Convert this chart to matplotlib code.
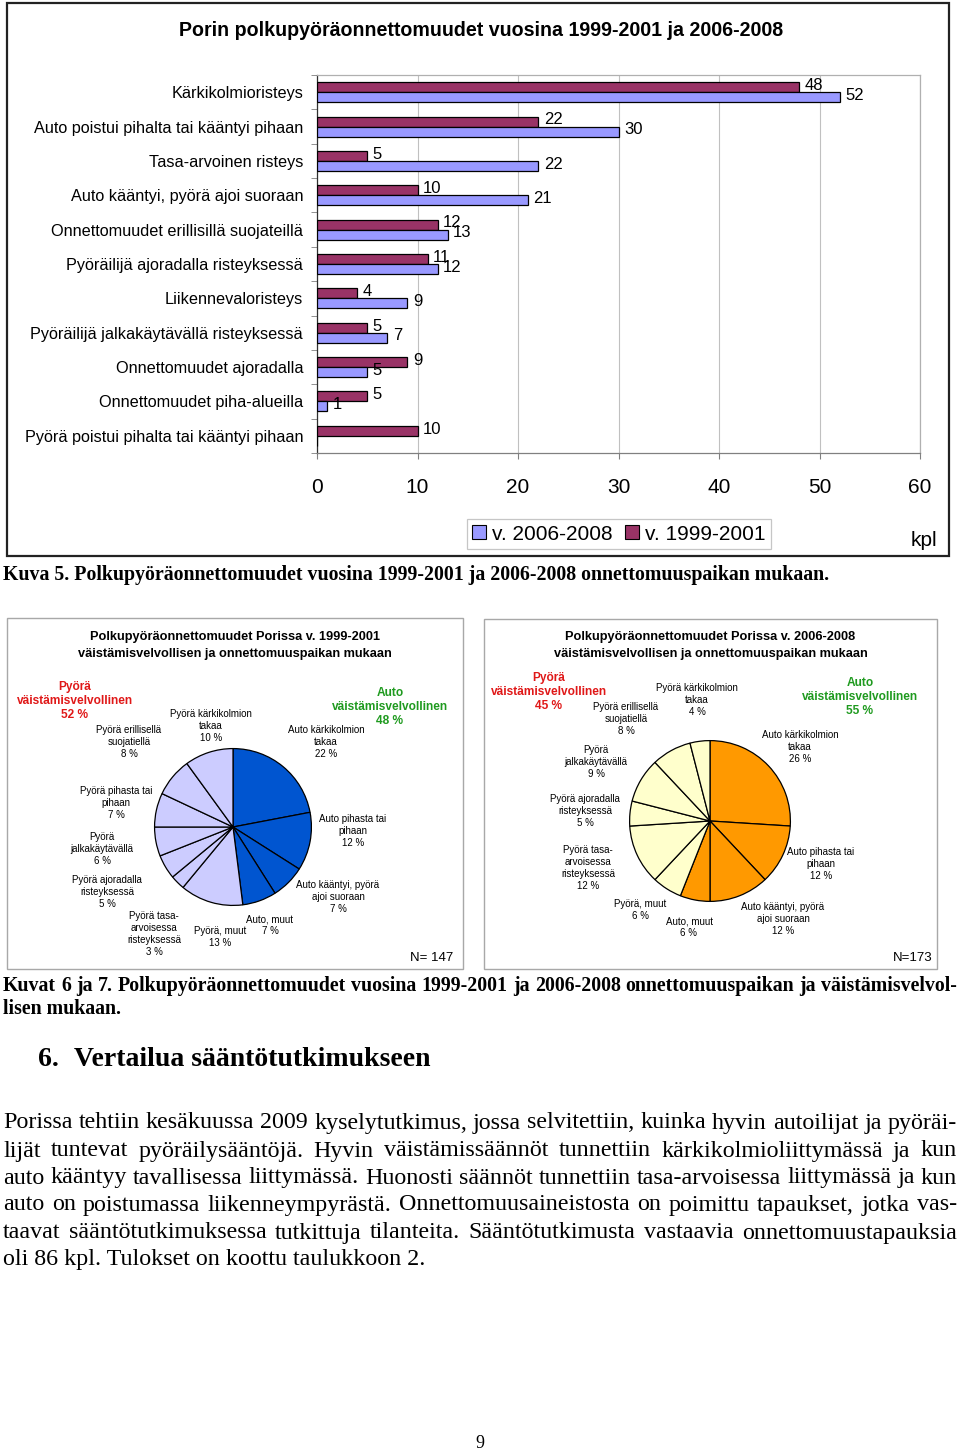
import matplotlib
matplotlib.use('Agg')
import matplotlib.pyplot as plt
from matplotlib.patches import Rectangle
import numpy as np

W, H = 960, 1451
SANS = 'Liberation Sans'
SERIF = 'Liberation Serif'

# ---------------- data ----------------
categories = [
    "Kärkikolmioristeys",
    "Auto poistui pihalta tai kääntyi pihaan",
    "Tasa-arvoinen risteys",
    "Auto kääntyi, pyörä ajoi suoraan",
    "Onnettomuudet erillisillä suojateillä",
    "Pyöräilijä ajoradalla risteyksessä",
    "Liikennevaloristeys",
    "Pyöräilijä jalkakäytävällä risteyksessä",
    "Onnettomuudet ajoradalla",
    "Onnettomuudet piha-alueilla",
    "Pyörä poistui pihalta tai kääntyi pihaan",
]
v1999_2001 = [48, 22, 5, 10, 12, 11, 4, 5, 9, 5, 10]
v2006_2008 = [52, 30, 22, 21, 13, 12, 9, 7, 5, 1, 0]
x_ticks = [0, 10, 20, 30, 40, 50, 60]
series_names = ["v. 2006-2008", "v. 1999-2001"]

pie1_names = ["Auto kärkikolmion\ntakaa", "Auto pihasta tai\npihaan",
              "Auto kääntyi, pyörä\najoi suoraan", "Auto, muut",
              "Pyörä, muut", "Pyörä tasa-\narvoisessa\nristeyksessä",
              "Pyörä ajoradalla\nristeyksessä", "Pyörä\njalkakäytävällä",
              "Pyörä pihasta tai\npihaan", "Pyörä erillisellä\nsuojatiellä",
              "Pyörä kärkikolmion\ntakaa"]
pie1_values = [22, 12, 7, 7, 13, 3, 5, 6, 7, 8, 10]
pie1_is_auto = [True, True, True, True, False, False, False, False, False, False, False]
pie1_totals = {"Pyörä": 52, "Auto": 48}
pie1_n = 147

pie2_names = ["Auto kärkikolmion\ntakaa", "Auto pihasta tai\npihaan",
              "Auto kääntyi, pyörä\najoi suoraan", "Auto, muut",
              "Pyörä, muut", "Pyörä tasa-\narvoisessa\nristeyksessä",
              "Pyörä ajoradalla\nristeyksessä", "Pyörä\njalkakäytävällä",
              "Pyörä erillisellä\nsuojatiellä", "Pyörä kärkikolmion\ntakaa"]
pie2_values = [26, 12, 12, 6, 6, 12, 5, 9, 8, 4]
pie2_is_auto = [True, True, True, True, False, False, False, False, False, False]
pie2_totals = {"Pyörä": 45, "Auto": 55}
pie2_n = 173

paragraph = [
    "Porissa tehtiin kesäkuussa 2009 kyselytutkimus, jossa selvitettiin, kuinka hyvin autoilijat ja pyöräi-",
    "lijät tuntevat pyöräilysääntöjä. Hyvin väistämissäännöt tunnettiin kärkikolmioliittymässä ja kun",
    "auto kääntyy tavallisessa liittymässä. Huonosti säännöt tunnettiin tasa-arvoisessa liittymässä ja kun",
    "auto on poistumassa liikenneympyrästä. Onnettomuusaineistosta on poimittu tapaukset, jotka vas-",
    "taavat sääntötutkimuksessa tutkittuja tilanteita. Sääntötutkimusta vastaavia onnettomuustapauksia",
    "oli 86 kpl. Tulokset on koottu taulukkoon 2.",
]
caption2 = [
    "Kuvat 6 ja 7. Polkupyöräonnettomuudet vuosina 1999-2001 ja 2006-2008 onnettomuuspaikan ja väistämisvelvol-",
    "lisen mukaan.",
]

# ---------------- helpers ----------------
fig = plt.figure(figsize=(W / 100, H / 100), dpi=100)
fig.patch.set_facecolor('white')
renderer = fig.canvas.get_renderer()


def P(x, y):
    return (x / W, 1 - y / H)


def text_w(s, size, **kw):
    t = fig.text(0, 0, s, fontsize=size, **kw)
    w = t.get_window_extent(renderer).width
    t.remove()
    return w


def fit(s, target, **kw):
    return 20 * target / text_w(s, 20, **kw)


def ftext(x, y, s, **kw):
    return fig.text(*P(x, y), s, **kw)


def justify(line, x0, x1, y, size, **kw):
    words = line.split(' ')
    widths = [text_w(w, size, **kw) for w in words]
    gap = (x1 - x0 - sum(widths)) / (len(words) - 1)
    x = x0
    for w, wd in zip(words, widths):
        ftext(x, y, w, fontsize=size, ha='left', va='center', **kw)
        x += wd + gap


def frame(x0, y0, x1, y1, lw, color):
    fig.add_artist(Rectangle(P(x0, y1), (x1 - x0) / W, (y1 - y0) / H,
                             transform=fig.transFigure, fill=False,
                             lw=lw, edgecolor=color))


MAROON = '#993366'
BLUE = '#9999ff'

# ---------------- bar chart ----------------
frame(7, 3, 949, 556, 1.6, '#222222')
ttl = "Porin polkupyöräonnettomuudet vuosina 1999-2001 ja 2006-2008"
ftext(481, 31, ttl, fontsize=fit(ttl, 605, family=SANS, weight='bold'),
      family=SANS, weight='bold', ha='center', va='center')

ax = fig.add_axes([317 / W, 1 - 453 / H, 603 / W, 378 / H])
y = np.arange(len(categories))
bh = 0.29
ax.barh(y - bh / 2, v1999_2001, height=bh, color=MAROON, edgecolor='black', lw=0.9, zorder=3)
ax.barh(y + bh / 2, v2006_2008, height=bh, color=BLUE, edgecolor='black', lw=0.9, zorder=3)
for yi, v in zip(y, v1999_2001):
    if v > 0:
        ax.annotate(str(v), (v, yi - bh / 2 - 0.05), xytext=(4, 0), textcoords='offset points',
                    va='center', ha='left', fontsize=12, family=SANS)
for yi, v in zip(y, v2006_2008):
    if v > 0:
        ax.annotate(str(v), (v, yi + bh / 2 - 0.05), xytext=(4, 0), textcoords='offset points',
                    va='center', ha='left', fontsize=12, family=SANS)
ax.set_xlim(0, 60)
ax.set_ylim(len(categories) - 0.5, -0.5)
ax.set_xticks(x_ticks)
ax.set_xticklabels([str(t) for t in x_ticks], fontsize=15, family=SANS)
ax.tick_params(axis='x', length=4, color='#808080', pad=14)
ax.set_yticks(y)
cat_size = fit(categories[1], 268, family=SANS)
ax.set_yticklabels(categories, fontsize=cat_size, family=SANS)
ax.tick_params(axis='y', which='major', length=0, pad=10)
ax.set_yticks(np.arange(-0.5, len(categories), 1.0), minor=True)
ax.tick_params(axis='y', which='minor', length=4, color='#808080')
ax.grid(axis='x', color='#c0c0c0', lw=0.8, zorder=0)
ax.set_axisbelow(True)
ax.spines['left'].set_color('#303030')
ax.spines['bottom'].set_color('#808080')
ax.spines['top'].set_color('#b0b0b0')
ax.spines['right'].set_color('#b0b0b0')
for s in ax.spines.values():
    s.set_linewidth(0.9)

handles = [Rectangle((0, 0), 1, 1, facecolor=BLUE, edgecolor='black', lw=0.8),
           Rectangle((0, 0), 1, 1, facecolor=MAROON, edgecolor='black', lw=0.8)]
leg = fig.legend(handles, series_names, loc='center', bbox_to_anchor=P(619, 534), ncol=2,
                 prop={'family': SANS, 'size': 15}, frameon=True, fancybox=False,
                 handlelength=0.65, handleheight=0.65, handletextpad=0.3,
                 columnspacing=0.6, borderpad=0.25, borderaxespad=0)
leg.get_frame().set_edgecolor('#b8b8b8')
leg.get_frame().set_linewidth(0.9)
ftext(924, 541, "kpl", fontsize=15, family=SANS, ha='center', va='center')

# ---------------- captions ----------------
cap1 = "Kuva 5. Polkupyöräonnettomuudet vuosina 1999-2001 ja 2006-2008 onnettomuuspaikan mukaan."
cap_size = fit(cap1, 828, family=SERIF, weight='bold')
ftext(3, 575, cap1, fontsize=cap_size, family=SERIF, weight='bold', ha='left', va='center')

# ---------------- pies ----------------
pie_label_size = fit("Pyörä kärkikolmion", 83, family=SANS)
pie_title_size = fit("väistämisvelvollisen ja onnettomuuspaikan mukaan", 313, family=SANS, weight='bold')
big_size = fit("väistämisvelvollinen", 116, family=SANS, weight='bold')
RED = '#e01818'
GREEN = '#1f9a1f'


def draw_pie(box, cx, cy, r, values, names, is_auto, dark, light, period, totals, n,
             label_pos, red_pos, green_pos, n_pos):
    frame(*box, 1.0, '#a8a8a8')
    tx = (box[0] + box[2]) / 2
    ftext(tx, 637, "Polkupyöräonnettomuudet Porissa v. " + period, fontsize=pie_title_size,
          family=SANS, weight='bold', ha='center', va='center')
    ftext(tx, 654, "väistämisvelvollisen ja onnettomuuspaikan mukaan", fontsize=pie_title_size,
          family=SANS, weight='bold', ha='center', va='center')
    pax = fig.add_axes([(cx - r) / W, 1 - (cy + r) / H, 2 * r / W, 2 * r / H])
    cols = [dark if a else light for a in is_auto]
    pax.pie(values, colors=cols, startangle=90, counterclock=False,
            wedgeprops=dict(edgecolor='black', linewidth=0.9))
    pax.set_xlim(-1.02, 1.02)
    pax.set_ylim(-1.02, 1.02)
    for nm, v, (lx, ly) in zip(names, values, label_pos):
        ftext(lx, ly, f"{nm}\n{v} %", fontsize=pie_label_size, family=SANS,
              ha='center', va='center', linespacing=1.25)
    ftext(*red_pos, f"Pyörä\nväistämisvelvollinen\n{totals['Pyörä']} %", fontsize=big_size,
          family=SANS, weight='bold', color=RED, ha='center', va='center', linespacing=1.2)
    ftext(*green_pos, f"Auto\nväistämisvelvollinen\n{totals['Auto']} %", fontsize=big_size,
          family=SANS, weight='bold', color=GREEN, ha='center', va='center', linespacing=1.2)
    ftext(*n_pos, n, fontsize=9.5, family=SANS, ha='center', va='center')


pie1_label_pos = [(326, 742), (353, 831), (338, 897), (270, 925), (220, 937), (154, 934),
                  (107, 892), (102, 849), (116, 803), (129, 742), (211, 726)]
pie2_label_pos = [(800, 747), (821, 864), (783, 919), (689, 927), (640, 910), (588, 868),
                  (585, 811), (596, 762), (626, 719), (697, 700)]

draw_pie((7, 618, 463, 969), 233, 827, 80, pie1_values, pie1_names, pie1_is_auto,
         '#0055d0', '#ccccff', "1999-2001", pie1_totals, f"N= {pie1_n}",
         pie1_label_pos, (75, 701), (390, 707), (432, 958))
draw_pie((484, 619, 937, 969), 710, 821, 82, pie2_values, pie2_names, pie2_is_auto,
         '#ff9900', '#ffffcc', "2006-2008", pie2_totals, f"N={pie2_n}",
         pie2_label_pos, (549, 692), (860, 697), (913, 958))

# ---------------- lower text ----------------
justify(caption2[0], 3, 957, 986, cap_size, family=SERIF, weight='bold')
ftext(3, 1009, caption2[1], fontsize=cap_size, family=SERIF, weight='bold', ha='left', va='center')

head = "Vertailua sääntötutkimukseen"
hs = fit(head, 357, family=SERIF, weight='bold')
ftext(38, 1060, "6.", fontsize=hs, family=SERIF, weight='bold', ha='left', va='center')
ftext(74, 1060, head, fontsize=hs, family=SERIF, weight='bold', ha='left', va='center')

ps = fit(paragraph[-1], 422, family=SERIF)
maxw = max(text_w(l, ps, family=SERIF) for l in paragraph[:-1])
ps = min(ps, ps * 950 / maxw)
ys = [1123, 1151, 1178, 1205, 1233, 1260]
for line, yy in zip(paragraph[:-1], ys[:-1]):
    justify(line, 3, 957, yy, ps, family=SERIF)
ftext(3, ys[-1], paragraph[-1], fontsize=ps, family=SERIF, ha='left', va='center')

ftext(480, 1443, "9", fontsize=13, family=SERIF, ha='center', va='center')

fig.savefig('out.png', dpi=100)
